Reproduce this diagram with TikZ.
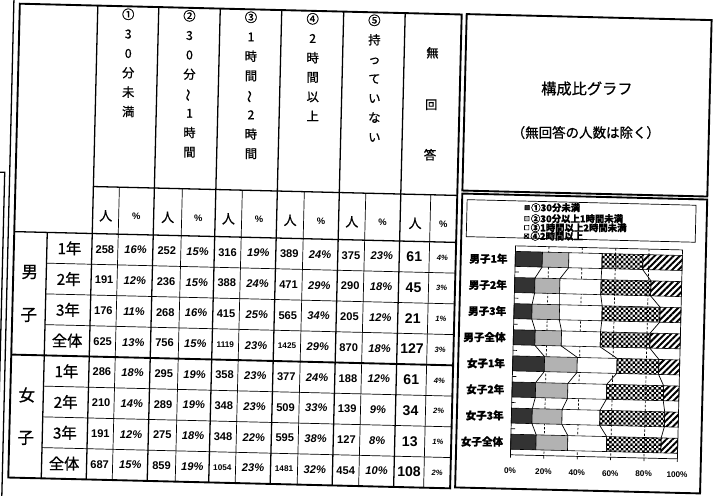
\documentclass[tikz,border=0pt]{standalone}
\usepackage{fontspec}
\setmainfont{Liberation Sans}
\newfontfamily\jp{Noto Sans CJK JP}[FakeBold=0.8]
\usetikzlibrary{patterns,patterns.meta}

\pgfdeclarepatternformonly{checks}{\pgfqpoint{-.1pt}{-.1pt}}{\pgfqpoint{4.1pt}{4.1pt}}{\pgfqpoint{4pt}{4pt}}{%
  \pgfpathrectangle{\pgfqpoint{0pt}{0pt}}{\pgfqpoint{2.05pt}{2.05pt}}%
  \pgfpathrectangle{\pgfqpoint{2pt}{2pt}}{\pgfqpoint{2.05pt}{2.05pt}}%
  \pgfusepath{fill}}

\newcommand\wave{\rotatebox[origin=c]{90}{～}}
\newcommand\cnt[1]{\ifnum#1>999 {\fontsize{7}{7}\selectfont#1}\else#1\fi}

\tikzset{
  tblout/.style={line width=1.6pt},
  tblmaj/.style={line width=1.1pt},
  tblmin/.style={line width=0.6pt},
  vhead/.style={font=\jp\fontsize{10.5}{16.6}\selectfont,align=center,anchor=north,inner sep=0},
  cell/.style={inner sep=0,font=\bfseries\fontsize{9.5}{9.5}\selectfont},
  pct/.style={inner sep=0,font=\bfseries\itshape\fontsize{9.5}{9.5}\selectfont},
  seg/.style={draw,line width=0.5pt},
  diag/.style={pattern={Lines[angle=45,distance=3.8pt,line width=1.7pt]}},
  gline/.style={line width=0.6pt,dash pattern=on 2pt off 1.5pt},
  legl/.style={anchor=west,inner sep=0,font=\jp\bfseries\fontsize{8}{8}\selectfont},
}

\begin{document}
\begin{tikzpicture}[x=0.03cm,y=-0.03cm]
\fill[white,use as bounding box] (0,0) rectangle (718,495);
\begin{scope}[rotate around={-1.4:(235,245)}]
% edge of the next table
\draw[tblmaj] (8,-10) -- (8,510);
\draw[tblmaj] (-5,178) -- (3,178) -- (3,510);

% table frame
\draw[tblout] (14,9) rectangle (456,483);
\draw[tblmaj] (92,190) -- (456,190) (14,237) -- (456,237);
\draw[tblout] (14,360) -- (456,360);
\foreach \y in {267.75,298.5,329.25,390.75,421.5,452.25} \draw[tblmin] (47,\y) -- (456,\y);
\draw[tblmaj] (47,237) -- (47,483);
\foreach \x in {92,153,214.5,276,338,399.5} \draw[tblmaj] (\x,9) -- (\x,483);
\foreach \x in {118,181,241,303,364.5,429.5} \draw[tblmin] (\x,190) -- (\x,483);

% column heads
\node[vhead] (h1) at (122.5,11) {①\\3\\0\\分\\未\\満};
\node[vhead] (h2) at (183.75,11) {②\\3\\0\\分\\\wave\\1\\時\\間};
\node[vhead] (h3) at (245.25,11) {③\\1\\時\\間\\\wave\\2\\時\\間};
\node[vhead] (h4) at (307,11) {④\\2\\時\\間\\以\\上};
\node[vhead] (h5) at (368.75,11) {⑤\\持\\っ\\て\\い\\な\\い};
\foreach \t/\y [count=\k] in {無/48,回/100,答/150}
  \node[font=\jp\fontsize{10.5}{10.5}\selectfont,inner sep=0] (h6\k) at (427.75,\y) {\t};
\foreach \xa/\xb [count=\c] in {105/135.5,167/197.75,227.75/258.5,289.5/320.5,351.25/382,414.5/442.75}{
  \node[font=\jp\fontsize{11}{11}\selectfont,inner sep=0] (u\c) at (\xa,219) {人};
  \node[font=\bfseries\fontsize{8}{8}\selectfont,inner sep=0] (v\c) at (\xb,219) {\%};
}

% row heads
\node[font=\jp\fontsize{14}{14}\selectfont] (g1) at (30.5,277) {男};
\node[font=\jp\fontsize{14}{14}\selectfont] (g2) at (30.5,320) {子};
\node[font=\jp\fontsize{14}{14}\selectfont] (g3) at (30.5,400) {女};
\node[font=\jp\fontsize{14}{14}\selectfont] (g4) at (30.5,443) {子};
\foreach \t [count=\r] in {1年,2年,3年,全体,1年,2年,3年,全体}
  \node[font=\jp\fontsize{13}{13}\selectfont,inner sep=0] (r\r) at (69.5,{237+30.75*(\r-0.5)}) {\t};

% counts and shares
\foreach \vals [count=\r] in {
  {258/16,252/15,316/19,389/24,375/23},
  {191/12,236/15,388/24,471/29,290/18},
  {176/11,268/16,415/25,565/34,205/12},
  {625/13,756/15,1119/23,1425/29,870/18},
  {286/18,295/19,358/23,377/24,188/12},
  {210/14,289/19,348/23,509/33,139/9},
  {191/12,275/18,348/22,595/38,127/8},
  {687/15,859/19,1054/23,1481/32,454/10}}{
  \foreach \n/\p [count=\c] in \vals{
    \pgfmathsetmacro\xn{{105,167,227.75,289.5,351.25}[\c-1]}
    \node[cell] (n\r\c) at (\xn,{237+30.75*(\r-0.5)}) {\cnt{\n}};
    \node[pct] (p\r\c) at (\xn+30.75,{237+30.75*(\r-0.5)}) {\p\%};
  }
}
\foreach \n/\p [count=\r] in {61/4,45/3,21/1,127/3,61/4,34/2,13/1,108/2}{
  \node[cell,font=\bfseries\fontsize{12}{12}\selectfont] (n\r6) at (414.5,{237+30.75*(\r-0.5)}) {\n};
  \node[pct,font=\bfseries\itshape\fontsize{6.5}{6.5}\selectfont] (p\r6) at (442.75,{237+30.75*(\r-0.5)}) {\p\%};
}

% chart panel
\draw[tblout] (461,8.5) rectangle (706,185);
\node[font=\jp\fontsize{13}{13}\selectfont] (title) at (583,80) {構成比グラフ};
\node[font=\jp\fontsize{11.5}{11.5}\selectfont] (note) at (583,124) {（無回答の人数は除く）};
\draw[tblout] (461,188) rectangle (706,482);

% legend
\draw[tblmin] (466,194) rectangle (695,231);
\draw[seg,fill=black!80] (524,198.3) rectangle +(4.4,4.4);
\node[legl] (l1) at (530,200.5) {①30分未満};
\draw[seg,fill=black!25] (524,209.3) rectangle +(4.4,4.4);
\node[legl] (l2) at (530,211.5) {②30分以上1時間未満};
\draw[seg,fill=white] (524,218.3) rectangle +(4.4,4.4);
\node[legl] (l3) at (530,220.5) {③1時間以上2時間未満};
\draw[seg,pattern=checks] (524,226.8) rectangle +(4.4,4.4);
\node[legl] (l4) at (530,229) {④2時間以上};

% bars
\foreach \p in {20,40,60,80} \draw[gline] ({515.5+1.67*\p},239) -- ({515.5+1.67*\p},448);
\foreach \na/\nb/\nc/\nd/\ne [count=\i] in {258/252/316/389/375, 191/236/388/471/290,
    176/268/415/565/205, 625/756/1119/1425/870, 286/295/358/377/188,
    210/289/348/509/139, 191/275/348/595/127, 687/859/1054/1481/454}{
  \pgfmathsetmacro\tot{\na+\nb+\nc+\nd+\ne}
  \pgfmathsetmacro\xa{515.5+167*(\na/\tot)}
  \pgfmathsetmacro\xb{515.5+167*((\na+\nb)/\tot)}
  \pgfmathsetmacro\xc{515.5+167*((\na+\nb+\nc)/\tot)}
  \pgfmathsetmacro\xd{515.5+167*((\na+\nb+\nc+\nd)/\tot)}
  \pgfmathsetmacro\ym{239+26.125*(\i-0.5)}
  \draw[seg,fill=black!80] (515.5,\ym-7.5) rectangle (\xa,\ym+7.5);
  \draw[seg,fill=black!30] (\xa,\ym-7.5) rectangle (\xb,\ym+7.5);
  \draw[seg,fill=white] (\xb,\ym-7.5) rectangle (\xc,\ym+7.5);
  \draw[seg,pattern=checks] (\xc,\ym-7.5) rectangle (\xd,\ym+7.5);
  \draw[seg,diag] (\xd,\ym-7.5) rectangle (682.5,\ym+7.5);
  \foreach \q [count=\j] in {\xa,\xb,\xc,\xd}{
    \coordinate (t\i\j) at (\q,\ym-7.5);
    \coordinate (b\i\j) at (\q,\ym+7.5);
  }
}
\foreach \i in {1,...,7}{
  \pgfmathtruncatemacro\k{\i+1}
  \foreach \j in {1,...,4} \draw[tblmin] (b\i\j) -- (t\k\j);
}
\draw[tblmin] (515.5,239) rectangle (682.5,448);
\foreach \k in {1,...,7} \draw[tblmin] (515.5,{239+26.125*\k}) -- ++(4,0);
\foreach \p [count=\k] in {0,20,...,100}{
  \draw[tblmin] ({515.5+1.67*\p},448) -- ++(0,3);
  \node[font=\bfseries\fontsize{7}{7}\selectfont,inner sep=0] (a\k) at ({515.5+1.67*\p},464) {\p\%};
}
\foreach \t [count=\i] in {男子1年,男子2年,男子3年,男子全体,女子1年,女子2年,女子3年,女子全体}
  \node[anchor=east,inner sep=0,font=\jp\bfseries\fontsize{9}{9}\selectfont] (c\i) at (508,{239+26.125*(\i-0.5)}) {\t};
\end{scope}
\end{tikzpicture}
\end{document}
